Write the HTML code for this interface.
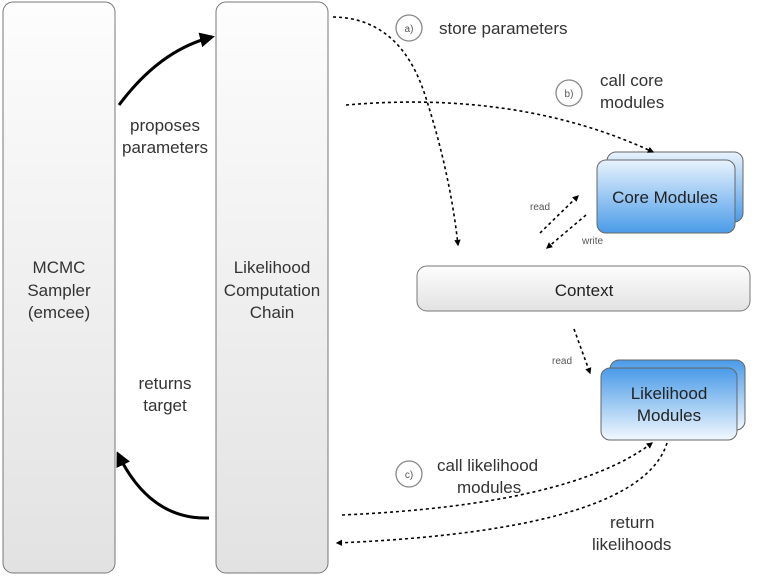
<!DOCTYPE html>
<html><head><style>
html,body{margin:0;padding:0;background:#fff;}
svg{display:block;font-family:"Liberation Sans",sans-serif;}
</style></head><body>
<svg width="768" height="576" viewBox="0 0 768 576" xmlns="http://www.w3.org/2000/svg">
<defs>
<linearGradient id="g" x1="0" y1="0" x2="0" y2="1"><stop offset="0" stop-color="#fdfdfd"/><stop offset="1" stop-color="#e2e2e2"/></linearGradient>
<linearGradient id="bd" x1="0" y1="0" x2="0" y2="1"><stop offset="0" stop-color="#e8f3fd"/><stop offset="1" stop-color="#4a9be8"/></linearGradient>
<linearGradient id="bu" x1="0" y1="0" x2="0" y2="1"><stop offset="0" stop-color="#4a9be8"/><stop offset="1" stop-color="#f2f8fe"/></linearGradient>
<marker id="a" viewBox="0 0 10 10" refX="8" refY="5" markerWidth="5" markerHeight="5" orient="auto"><path d="M0,0L10,5L0,10z" fill="#000"/></marker>
<marker id="as" viewBox="0 0 10 10" refX="8" refY="5" markerWidth="4" markerHeight="4" orient="auto"><path d="M0,0L10,5L0,10z" fill="#000"/></marker>
</defs>
<rect x="3" y="2" width="112" height="571" rx="10" fill="url(#g)" stroke="#777" stroke-width="1"/>
<rect x="216" y="2" width="112" height="571" rx="10" fill="url(#g)" stroke="#777" stroke-width="1"/>
<g font-size="17" fill="#333" text-anchor="middle">
<text x="59" y="273">MCMC</text><text x="59" y="296">Sampler</text><text x="59" y="318">(emcee)</text>
<text x="272" y="273">Likelihood</text><text x="272" y="296">Computation</text><text x="272" y="318">Chain</text>
<text x="165" y="131">proposes</text><text x="165" y="153">parameters</text>
<text x="165" y="389">returns</text><text x="165" y="411">target</text>
</g>
<path d="M119,105 Q160,50 212,37" fill="none" stroke="#000" stroke-width="3" marker-end="url(#a)"/>
<path d="M209,518 Q150,520 118,454" fill="none" stroke="#000" stroke-width="3" marker-end="url(#a)"/>
<!-- core modules -->
<rect x="607" y="152" width="136" height="70" rx="9" fill="url(#bd)" stroke="#666"/>
<rect x="597" y="160" width="138" height="73" rx="9" fill="url(#bd)" stroke="#666"/>
<text x="665" y="203" font-size="17" fill="#222" text-anchor="middle">Core Modules</text>
<!-- context -->
<rect x="417" y="266" width="333" height="45" rx="10" fill="url(#g)" stroke="#777"/>
<text x="584" y="296" font-size="17" fill="#222" text-anchor="middle">Context</text>
<!-- likelihood modules -->
<rect x="610" y="360" width="135" height="70" rx="9" fill="url(#bu)" stroke="#666"/>
<rect x="601" y="368" width="136" height="72" rx="9" fill="url(#bu)" stroke="#666"/>
<text x="669" y="399" font-size="17" fill="#222" text-anchor="middle">Likelihood</text>
<text x="669" y="421" font-size="17" fill="#222" text-anchor="middle">Modules</text>
<!-- dotted connectors -->
<g fill="none" stroke="#000" stroke-width="1.6" stroke-dasharray="3,3">
<path d="M333,17 Q400,18 425,95 T458,245" marker-end="url(#as)"/>
<path d="M346,105 Q520,90 653,152" marker-end="url(#as)"/>
<path d="M540,233 L578,196" marker-end="url(#as)"/>
<path d="M586,215 L547,248" marker-end="url(#as)"/>
<path d="M574,329 L590,373" marker-end="url(#as)"/>
<path d="M342,515 Q570,505 652,443" marker-end="url(#as)"/>
<path d="M667,443 Q640,530 337,543" marker-end="url(#as)"/>
</g>
<g fill="none" stroke="#888" stroke-width="1.3">
<circle cx="409" cy="28" r="13"/><circle cx="569" cy="93" r="13"/><circle cx="409" cy="474" r="13"/>
</g>
<g font-size="10" fill="#555" text-anchor="middle">
<text x="409" y="32">a)</text><text x="569" y="97">b)</text><text x="409" y="478">c)</text>
</g>
<g font-size="17" fill="#333">
<text x="439" y="34">store parameters</text>
<text x="600" y="86">call core</text><text x="600" y="108">modules</text>
<text x="437" y="471">call likelihood</text>
<text x="457" y="493">modules</text>
<text x="610" y="528">return</text><text x="592" y="550">likelihoods</text>
</g>
<g font-size="10" fill="#555">
<text x="530" y="210">read</text><text x="582" y="244">write</text><text x="552" y="364">read</text>
</g>
</svg>
</body></html>
